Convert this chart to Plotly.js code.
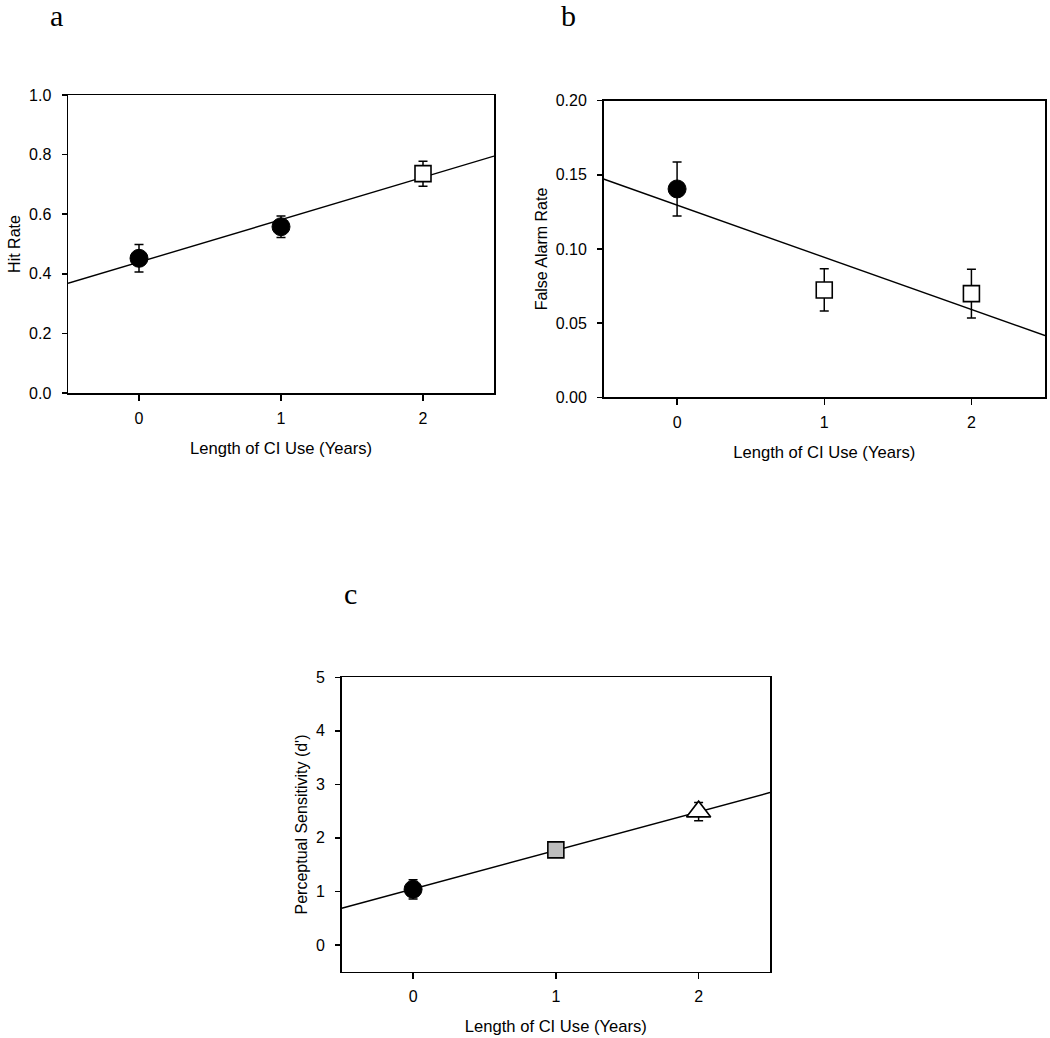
<!DOCTYPE html>
<html>
<head>
<meta charset="utf-8">
<script src="https://cdn.plot.ly/plotly-3.0.1.min.js"></script>
<style>html,body{margin:0;padding:0;background:#fff;}#chart{width:1050px;height:1038px;}</style>
</head>
<body>
<div id="chart"></div>
<script>
// ----- data -----
var years = [0, 1, 2];
var xTickLabels = ['0', '1', '2'];

// Panel a: Hit Rate
var hitRate = [0.452, 0.558, 0.736];
var hitErr = [0.046, 0.036, 0.042];
var hitFitX = [-0.5, 2.5];
var hitFitY = [0.368, 0.795];

// Panel b: False Alarm Rate
var faRate = [0.1405, 0.0724, 0.0699];
var faErr = [0.0182, 0.0142, 0.0164];
var faFitX = [-0.5, 2.5];
var faFitY = [0.1472, 0.0416];

// Panel c: Perceptual Sensitivity (d')
var dPrime = [1.04, 1.776, 2.49];
var dPrimeErr = [0.18, 0.06, 0.17];
var dFitX = [-0.5, 2.5];
var dFitY = [0.686, 2.847];

var panelLetters = ['a', 'b', 'c'];
var xTitle = 'Length of CI Use (Years)';
var yTitles = ['Hit Rate', 'False Alarm Rate', "Perceptual Sensitivity (d')"];

// ----- styles -----
var FONT = 'Liberation Sans, Arial, sans-serif';
var W = 1050, H = 1038;

function errBar(arr) {
  return {type: 'data', array: arr, visible: true, color: '#000', thickness: 1.5, width: 4.5};
}
function fitTrace(x, y, xa, ya) {
  return {x: x, y: y, xaxis: xa, yaxis: ya, mode: 'lines', type: 'scatter',
          line: {color: '#000', width: 1.4}, hoverinfo: 'skip', showlegend: false};
}
function pointTrace(xIdx, yArr, eArr, xa, ya, marker) {
  return {x: xIdx.map(function(i){return years[i];}),
          y: xIdx.map(function(i){return yArr[i];}),
          error_y: errBar(xIdx.map(function(i){return eArr[i];})),
          xaxis: xa, yaxis: ya, mode: 'markers', type: 'scatter',
          marker: marker, showlegend: false};
}
var filledCircle = {symbol: 'circle', size: 18, color: '#000', line: {color: '#000', width: 1}};
var openSquare = {symbol: 'square', size: 16, color: '#fff', line: {color: '#000', width: 1.6}};
var graySquare = {symbol: 'square', size: 16, color: '#bdbdbd', line: {color: '#000', width: 1.6}};
var openTriangle = {symbol: 'triangle-up', size: 21, color: '#fff', line: {color: '#000', width: 1.6}};

var traces = [
  fitTrace(hitFitX, hitFitY, 'x', 'y'),
  pointTrace([0, 1], hitRate, hitErr, 'x', 'y', filledCircle),
  pointTrace([2], hitRate, hitErr, 'x', 'y', openSquare),

  fitTrace(faFitX, faFitY, 'x2', 'y2'),
  pointTrace([0], faRate, faErr, 'x2', 'y2', filledCircle),
  pointTrace([1, 2], faRate, faErr, 'x2', 'y2', openSquare),

  fitTrace(dFitX, dFitY, 'x3', 'y3'),
  pointTrace([0], dPrime, dPrimeErr, 'x3', 'y3', filledCircle),
  pointTrace([1], dPrime, dPrimeErr, 'x3', 'y3', graySquare),
  pointTrace([2], dPrime, dPrimeErr, 'x3', 'y3', openTriangle)
];

function xAxis(left, right, anchor) {
  return {domain: [left / W, right / W], anchor: anchor, range: [-0.5, 2.5],
          tickvals: years, ticktext: xTickLabels, ticks: 'outside', ticklen: 6, tickwidth: 1.5,
          tickcolor: '#000', showline: true, mirror: true, linecolor: '#000', linewidth: 1.5,
          showgrid: false, zeroline: false, fixedrange: true, ticklabelstandoff: 4,
          tickfont: {family: FONT, size: 16, color: '#000'},
          title: {text: xTitle, font: {family: FONT, size: 16.6, color: '#000'}, standoff: 16}};
}
function yAxis(top, bottom, anchor, range, tickvals, ticktext, title) {
  return {domain: [1 - bottom / H, 1 - top / H], anchor: anchor, range: range,
          tickvals: tickvals, ticktext: ticktext, ticks: 'outside', ticklen: 5, tickwidth: 1.5,
          tickcolor: '#000', showline: true, mirror: true, linecolor: '#000', linewidth: 1.5,
          showgrid: false, zeroline: false, fixedrange: true, ticklabelstandoff: 7,
          tickfont: {family: FONT, size: 16, color: '#000'},
          title: {text: title, font: {family: FONT, size: 16, color: '#000'}, standoff: 4}};
}

var hitTicks = [0, 0.2, 0.4, 0.6, 0.8, 1.0];
var hitTickText = ['0.0', '0.2', '0.4', '0.6', '0.8', '1.0'];
var faTicks = [0, 0.05, 0.10, 0.15, 0.20];
var faTickText = ['0.00', '0.05', '0.10', '0.15', '0.20'];
var dTicks = [0, 1, 2, 3, 4, 5];
var dTickText = ['0', '1', '2', '3', '4', '5'];

var letterFont = {family: 'Liberation Serif, Times New Roman, serif', size: 30, color: '#000'};
var layout = {
  width: W, height: H,
  margin: {l: 0, r: 0, t: 0, b: 0},
  paper_bgcolor: '#fff', plot_bgcolor: '#fff',
  showlegend: false,
  xaxis: xAxis(68, 494, 'y'),
  yaxis: yAxis(95, 393, 'x', [0, 1], hitTicks, hitTickText, yTitles[0]),
  xaxis2: xAxis(603.5, 1045, 'y2'),
  yaxis2: yAxis(100.7, 397.3, 'x2', [0, 0.2], faTicks, faTickText, yTitles[1]),
  xaxis3: xAxis(341.7, 770, 'y3'),
  yaxis3: yAxis(677.3, 971.7, 'x3', [-0.5, 5], dTicks, dTickText, yTitles[2]),
  annotations: [
    {text: panelLetters[0], xref: 'paper', yref: 'paper', x: 56 / W, y: 1 - 26 / H,
     xanchor: 'center', yanchor: 'bottom', yshift: -8, showarrow: false, font: letterFont},
    {text: panelLetters[1], xref: 'paper', yref: 'paper', x: 568 / W, y: 1 - 26 / H,
     xanchor: 'center', yanchor: 'bottom', yshift: -8, showarrow: false, font: letterFont},
    {text: panelLetters[2], xref: 'paper', yref: 'paper', x: 350 / W, y: 1 - 604 / H,
     xanchor: 'center', yanchor: 'bottom', yshift: -8, showarrow: false, font: letterFont}
  ]
};

Plotly.newPlot('chart', traces, layout, {staticPlot: true, displayModeBar: false});
</script>
</body>
</html>
